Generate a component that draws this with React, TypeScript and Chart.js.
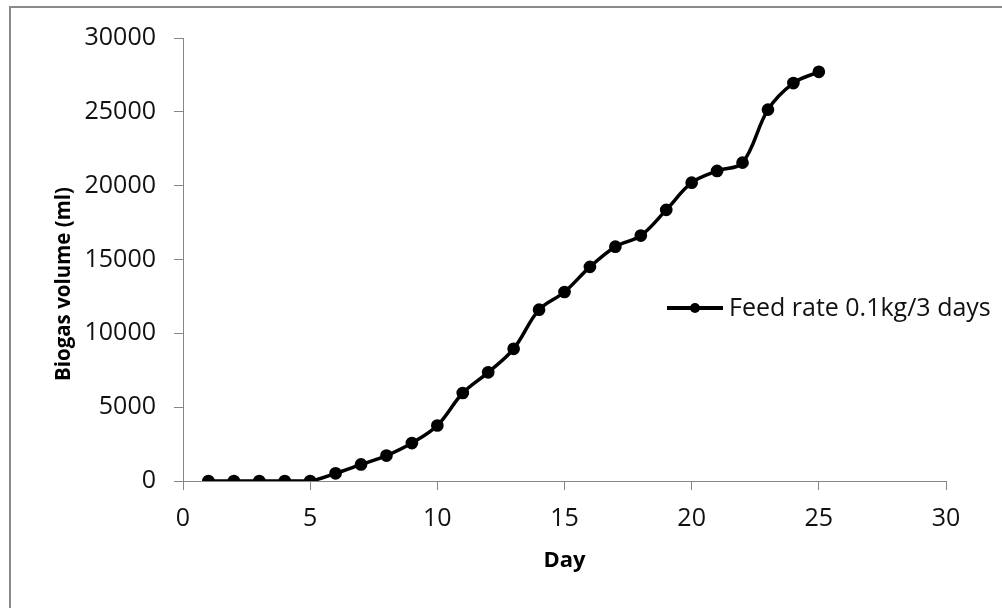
import { useEffect, useRef } from "react";
import { Chart, registerables } from "chart.js";

Chart.register(...registerables);

const days = [1, 2, 3, 4, 5, 6, 7, 8, 9, 10, 11, 12, 13, 14, 15, 16, 17, 18, 19, 20, 21, 22, 23, 24, 25];
const biogasVolume = [0, 0, 0, 0, 0, 520, 1120, 1720, 2570, 3760, 5960, 7360, 8950, 11600, 12800, 14500, 15870, 16620, 18360, 20200, 21000, 21560, 25150, 26950, 27710];
const seriesLabel = "Feed rate 0.1kg/3 days";
const xTitle = "Day";
const yTitle = "Biogas volume (ml)";

const FONT = "'Open Sans', 'Noto Sans', sans-serif";

export default function App() {
  const ref = useRef<HTMLCanvasElement | null>(null);

  useEffect(() => {
    if (!ref.current) return;
    const legendAndTitle = {
      id: "customLegend",
      afterDraw(chart: any) {
        const ctx = chart.ctx;
        ctx.save();
        // y title
        ctx.translate(64, 284);
        ctx.rotate(-Math.PI / 2);
        ctx.font = `bold 20.5px ${FONT}`;
        ctx.fillStyle = "#000";
        ctx.textAlign = "center";
        ctx.textBaseline = "middle";
        ctx.fillText(yTitle, 0, 0);
        ctx.restore();
        // legend
        ctx.save();
        ctx.strokeStyle = "#000";
        ctx.lineWidth = 4;
        ctx.beginPath();
        ctx.moveTo(667, 308);
        ctx.lineTo(723, 308);
        ctx.stroke();
        ctx.fillStyle = "#000";
        ctx.beginPath();
        ctx.arc(695, 308, 5, 0, Math.PI * 2);
        ctx.fill();
        ctx.font = `25px ${FONT}`;
        ctx.textAlign = "left";
        ctx.textBaseline = "middle";
        ctx.fillStyle = "#111";
        ctx.fillText(seriesLabel, 729, 309);
        ctx.restore();
      },
    };

    const chart = new Chart(ref.current, {
      type: "line",
      data: {
        datasets: [
          {
            label: seriesLabel,
            data: days.map((d, i) => ({ x: d, y: biogasVolume[i] })),
            borderColor: "#000",
            backgroundColor: "#000",
            borderWidth: 3.5,
            pointRadius: 4.6,
            pointBackgroundColor: "#000",
            pointBorderColor: "#000",
            tension: 0.35,
            fill: false,
          },
        ],
      },
      options: {
        animation: false,
        responsive: false,
        devicePixelRatio: 1,
        layout: { padding: { left: 0, top: 38, right: 56, bottom: 0 } },
        plugins: {
          legend: { display: false },
          tooltip: { enabled: false },
        },
        scales: {
          x: {
            type: "linear",
            min: 0,
            max: 30,
            ticks: {
              stepSize: 5,
              padding: 14,
              color: "#111",
              font: { family: FONT, size: 25 },
            },
            grid: {
              display: true,
              drawOnChartArea: false,
              drawTicks: true,
              tickLength: 9,
              color: "#868686",
            },
            border: { color: "#868686", width: 1 },
            title: {
              display: true,
              text: xTitle,
              color: "#000",
              font: { family: FONT, size: 22, weight: "bold" },
              padding: { top: 34, bottom: 34 },
            },
            afterFit(scale: any) {
              scale.height = 127;
            },
          },
          y: {
            type: "linear",
            min: 0,
            max: 30000,
            ticks: {
              stepSize: 5000,
              padding: 18,
              color: "#111",
              font: { family: FONT, size: 25 },
              callback: (v: any) => String(v),
            },
            grid: {
              display: true,
              drawOnChartArea: false,
              drawTicks: true,
              tickLength: 9,
              color: "#868686",
            },
            border: { color: "#868686", width: 1 },
            afterFit(scale: any) {
              scale.width = 183;
            },
          },
        },
      },
      plugins: [legendAndTitle],
    });
    return () => chart.destroy();
  }, []);

  return (
    <div style={{ position: "absolute", left: 0, top: 0, width: 1002, height: 608, background: "#fff", overflow: "hidden" }}>
      <div
        style={{
          position: "absolute",
          left: 9,
          top: 6,
          width: 1100,
          height: 700,
          borderLeft: "2px solid #8a8a8a",
          borderTop: "2px solid #8a8a8a",
        }}
      />
      <canvas ref={ref} width={1002} height={608} style={{ position: "absolute", left: 0, top: 0 }} />
    </div>
  );
}
